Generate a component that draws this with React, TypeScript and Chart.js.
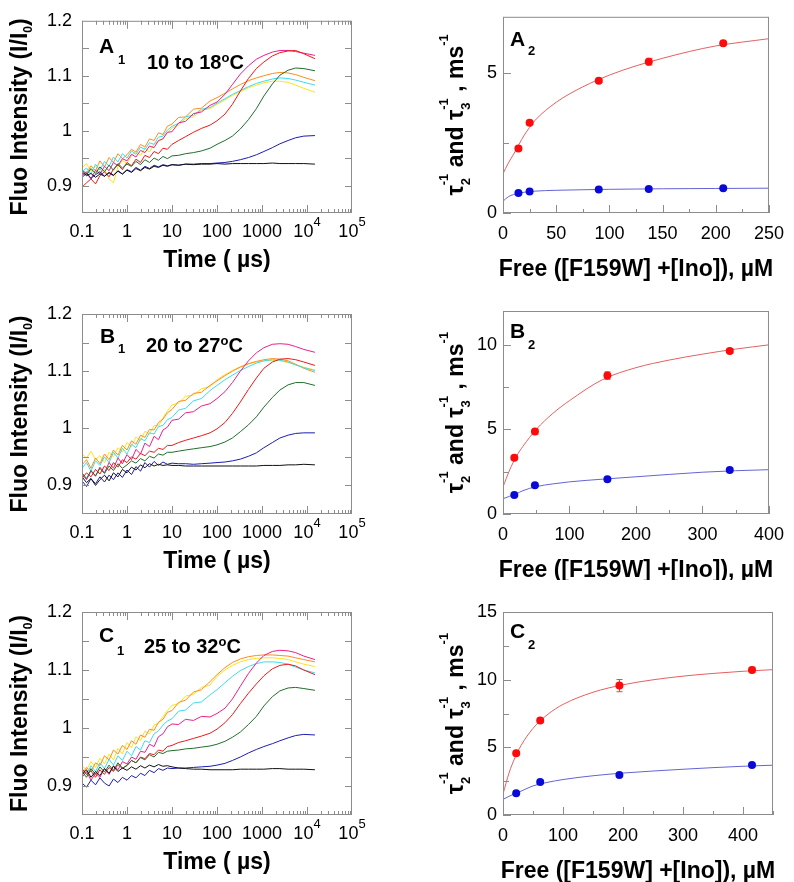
import React, { useEffect, useRef } from "react";
import { Chart, registerables } from "chart.js";
Chart.register(...registerables);

const FONT = '"Liberation Sans", Arial, Helvetica, sans-serif';
const AXIS_GRAY = "#8c8c8c";

// ---------- left panels: time axis (µs) shared by all traces ----------
const TIME = [0.1, 0.126, 0.158, 0.2, 0.25, 0.316, 0.4, 0.5, 0.63, 0.79,
  1, 1.26, 1.58, 2, 2.5, 3.16, 4, 5, 6.3, 7.9,
  10, 14, 20, 30, 45, 70, 100, 150, 220, 330,
  500, 750, 1100, 1700, 2500, 3800, 5600, 8500, 15000];

const TRACE_COLORS = ["#111111", "#1c1cb0", "#1f6e2a", "#f01818", "#e8208a", "#3adcf0", "#ff8c1a", "#ffe21a"];

// A1: 10 to 18 °C
const A1_BLACK = [0.925,0.918,0.922,0.915,0.921,0.917,0.924,0.919,0.926,0.921,
  0.928,0.924,0.931,0.927,0.933,0.930,0.935,0.933,0.937,0.935,
  0.938,0.937,0.939,0.938,0.939,0.939,0.940,0.939,0.940,0.940,
  0.940,0.940,0.940,0.941,0.940,0.940,0.940,0.940,0.939];
const A1_BLUE = [0.915,0.922,0.913,0.920,0.925,0.917,0.923,0.918,0.927,0.921,
  0.929,0.925,0.933,0.928,0.935,0.931,0.937,0.934,0.938,0.936,
  0.938,0.937,0.939,0.939,0.940,0.940,0.941,0.942,0.944,0.947,
  0.951,0.956,0.962,0.969,0.976,0.982,0.987,0.990,0.991];
const A1_GREEN = [0.928,0.919,0.931,0.922,0.934,0.925,0.937,0.928,0.940,0.932,
  0.939,0.935,0.944,0.938,0.947,0.942,0.950,0.946,0.953,0.949,
  0.954,0.955,0.958,0.960,0.963,0.968,0.975,0.982,0.990,1.003,
  1.020,1.040,1.063,1.085,1.101,1.110,1.114,1.113,1.109];
const A1_RED = [0.897,0.905,0.912,0.903,0.918,0.925,0.916,0.930,0.938,0.929,
  0.942,0.936,0.948,0.942,0.955,0.951,0.962,0.958,0.968,0.966,
  0.975,0.982,0.989,0.997,1.004,1.010,1.018,1.030,1.048,1.072,
  1.095,1.113,1.125,1.136,1.142,1.145,1.146,1.140,1.131];
const A1_MAGENTA = [0.918,0.925,0.912,0.928,0.921,0.935,0.927,0.942,0.936,0.949,
  0.945,0.957,0.952,0.964,0.960,0.972,0.969,0.982,0.985,0.997,
  0.998,1.014,1.017,1.031,1.034,1.046,1.052,1.066,1.084,1.103,
  1.118,1.130,1.137,1.143,1.146,1.146,1.144,1.141,1.137];
const A1_CYAN = [0.925,0.932,0.921,0.939,0.928,0.944,0.935,0.952,0.943,0.958,
  0.950,0.963,0.957,0.970,0.966,0.978,0.975,0.988,0.990,1.001,
  1.008,1.013,1.025,1.028,1.039,1.042,1.050,1.058,1.066,1.073,
  1.080,1.086,1.090,1.094,1.096,1.095,1.092,1.088,1.083];
const A1_ORANGE = [0.930,0.922,0.936,0.927,0.945,0.934,0.951,0.942,0.958,0.949,
  0.956,0.966,0.961,0.975,0.970,0.985,0.982,0.996,0.993,1.008,
  1.012,1.024,1.025,1.039,1.041,1.054,1.060,1.068,1.076,1.084,
  1.091,1.096,1.100,1.104,1.106,1.105,1.102,1.097,1.091];
const A1_YELLOW = [0.932,0.940,0.926,0.935,0.921,0.930,0.912,0.905,0.934,0.946,
  0.940,0.955,0.962,0.955,0.968,0.961,0.976,0.980,0.986,0.996,
  1.005,1.010,1.022,1.025,1.037,1.040,1.048,1.056,1.064,1.071,
  1.078,1.083,1.087,1.090,1.090,1.088,1.083,1.077,1.070];

// B1: 20 to 27 °C
const B1_BLACK = [0.915,0.905,0.912,0.900,0.910,0.918,0.908,0.922,0.915,0.928,
  0.922,0.932,0.927,0.936,0.931,0.938,0.934,0.937,0.935,0.936,
  0.935,0.935,0.934,0.934,0.934,0.934,0.934,0.934,0.934,0.934,
  0.934,0.934,0.935,0.935,0.935,0.936,0.936,0.937,0.936];
const B1_BLUE = [0.908,0.898,0.912,0.903,0.915,0.906,0.918,0.910,0.922,0.914,
  0.927,0.919,0.933,0.925,0.940,0.932,0.942,0.935,0.941,0.937,
  0.939,0.938,0.938,0.937,0.938,0.939,0.940,0.941,0.943,0.946,
  0.951,0.957,0.966,0.975,0.983,0.988,0.991,0.992,0.992];
const B1_GREEN = [0.922,0.912,0.926,0.917,0.930,0.921,0.934,0.926,0.938,0.930,
  0.936,0.943,0.939,0.947,0.943,0.951,0.948,0.955,0.953,0.958,
  0.958,0.960,0.962,0.964,0.966,0.968,0.971,0.976,0.983,0.994,
  1.006,1.020,1.037,1.054,1.067,1.076,1.080,1.080,1.075];
const B1_RED = [0.912,0.922,0.915,0.928,0.920,0.934,0.926,0.940,0.932,0.945,
  0.940,0.950,0.946,0.956,0.952,0.960,0.958,0.965,0.963,0.970,
  0.970,0.975,0.979,0.983,0.987,0.992,0.999,1.010,1.026,1.046,
  1.068,1.088,1.105,1.116,1.121,1.122,1.120,1.116,1.110];
const B1_MAGENTA = [0.920,0.910,0.925,0.916,0.932,0.922,0.940,0.930,0.948,0.938,
  0.954,0.945,0.963,0.955,0.974,0.968,0.986,0.980,0.997,1.002,
  1.014,1.016,1.027,1.029,1.039,1.043,1.052,1.064,1.080,1.100,
  1.118,1.132,1.141,1.147,1.148,1.147,1.143,1.138,1.133];
const B1_CYAN = [0.930,0.940,0.925,0.943,0.935,0.950,0.940,0.958,0.948,0.965,
  0.955,0.972,0.966,0.982,0.978,0.992,0.990,1.003,1.005,1.015,
  1.019,1.032,1.035,1.048,1.052,1.066,1.075,1.085,1.093,1.101,
  1.108,1.114,1.118,1.120,1.119,1.116,1.111,1.106,1.101];
const B1_ORANGE = [0.936,0.945,0.930,0.948,0.938,0.955,0.945,0.962,0.953,0.970,
  0.962,0.978,0.972,0.988,0.984,0.998,0.997,1.010,1.016,1.027,
  1.033,1.047,1.049,1.061,1.063,1.075,1.083,1.092,1.100,1.107,
  1.113,1.117,1.120,1.122,1.121,1.118,1.112,1.105,1.098];
const B1_YELLOW = [0.955,0.948,0.960,0.945,0.952,0.940,0.958,0.950,0.966,0.958,
  0.975,0.968,0.985,0.978,0.995,0.990,1.005,1.004,1.018,1.030,
  1.041,1.044,1.056,1.058,1.069,1.073,1.085,1.094,1.101,1.108,
  1.113,1.116,1.118,1.119,1.118,1.115,1.111,1.107,1.102];

// C1: 25 to 32 °C
const C1_BLACK = [0.920,0.928,0.915,0.925,0.918,0.930,0.922,0.934,0.925,0.931,
  0.927,0.933,0.929,0.935,0.931,0.936,0.933,0.937,0.934,0.935,
  0.933,0.931,0.930,0.929,0.929,0.928,0.928,0.928,0.928,0.929,
  0.929,0.929,0.929,0.930,0.930,0.929,0.929,0.929,0.928];
const C1_BLUE = [0.905,0.898,0.910,0.902,0.914,0.905,0.900,0.912,0.906,0.915,
  0.910,0.918,0.914,0.922,0.918,0.927,0.923,0.930,0.927,0.931,
  0.930,0.931,0.931,0.932,0.933,0.934,0.936,0.939,0.944,0.950,
  0.957,0.963,0.968,0.973,0.978,0.983,0.987,0.989,0.988];
const C1_GREEN = [0.925,0.915,0.930,0.920,0.933,0.924,0.936,0.927,0.940,0.931,
  0.935,0.944,0.940,0.949,0.945,0.954,0.950,0.958,0.956,0.960,
  0.961,0.962,0.964,0.965,0.967,0.969,0.972,0.977,0.984,0.993,
  1.006,1.020,1.038,1.054,1.064,1.069,1.070,1.068,1.065];
const C1_RED = [0.930,0.920,0.926,0.915,0.928,0.920,0.932,0.925,0.937,0.930,
  0.936,0.944,0.940,0.950,0.947,0.956,0.954,0.962,0.960,0.968,
  0.970,0.975,0.978,0.982,0.986,0.991,0.998,1.009,1.023,1.042,
  1.060,1.076,1.090,1.102,1.108,1.110,1.107,1.100,1.092];
const C1_MAGENTA = [0.915,0.925,0.910,0.922,0.915,0.930,0.920,0.935,0.928,0.942,
  0.938,0.950,0.946,0.960,0.958,0.972,0.968,0.985,0.990,1.002,
  1.007,1.006,1.015,1.013,1.020,1.019,1.025,1.034,1.050,1.072,
  1.094,1.112,1.125,1.132,1.134,1.133,1.130,1.124,1.118];
const C1_CYAN = [0.928,0.920,0.935,0.925,0.940,0.930,0.946,0.936,0.952,0.944,
  0.960,0.952,0.968,0.962,0.978,0.975,0.990,0.995,1.005,1.012,
  1.016,1.029,1.031,1.043,1.045,1.057,1.066,1.078,1.089,1.099,
  1.106,1.111,1.114,1.114,1.113,1.110,1.105,1.100,1.095];
const C1_ORANGE = [0.920,0.932,0.925,0.940,0.935,0.952,0.945,0.962,0.955,0.970,
  0.963,0.978,0.972,0.988,0.984,0.998,0.996,1.010,1.015,1.027,
  1.030,1.044,1.048,1.062,1.066,1.080,1.092,1.104,1.113,1.119,
  1.123,1.125,1.126,1.126,1.125,1.124,1.121,1.118,1.114];
const C1_YELLOW = [0.935,0.928,0.942,0.932,0.948,0.938,0.955,0.945,0.965,0.955,
  0.975,0.966,0.985,0.978,0.995,0.990,1.005,1.008,1.020,1.030,
  1.039,1.042,1.055,1.058,1.070,1.074,1.089,1.100,1.108,1.114,
  1.118,1.120,1.121,1.121,1.120,1.118,1.114,1.110,1.106];

const A1_TRACES = [A1_BLACK, A1_BLUE, A1_GREEN, A1_RED, A1_MAGENTA, A1_CYAN, A1_ORANGE, A1_YELLOW];
const B1_TRACES = [B1_BLACK, B1_BLUE, B1_GREEN, B1_RED, B1_MAGENTA, B1_CYAN, B1_ORANGE, B1_YELLOW];
const C1_TRACES = [C1_BLACK, C1_BLUE, C1_GREEN, C1_RED, C1_MAGENTA, C1_CYAN, C1_ORANGE, C1_YELLOW];

const LEFT_Y_LABELS = [0.9, 1, 1.1, 1.2];
const LEFT_Y_TICKS = [0.9, 0.95, 1, 1.05, 1.1, 1.15];
const LOG_TICKS = [0.1, 1, 10, 100, 1000, 10000, 100000];
const LOG_LABEL_BASE = ["0.1", "1", "10", "100", "1000", "10", "10"];
const LOG_LABEL_EXP = ["", "", "", "", "", "4", "5"];

// ---------- right panels ----------
const A2_X = [14.5, 25, 90, 137, 207];
const A2_RED = [2.3, 3.22, 4.72, 5.4, 6.06];
const A2_RED_ERR = [0.06, 0.05, 0.06, 0.12, 0.06];
const A2_BLUE = [0.71, 0.77, 0.84, 0.86, 0.88];
const A2_FIT_X = [0, 5, 10, 15, 20, 25, 30, 50, 75, 100, 125, 150, 175, 200, 250];
const A2_RED_FIT = [1.4, 1.78, 2.1, 2.45, 2.78, 3.05, 3.3, 3.95, 4.5, 4.92, 5.25, 5.52, 5.76, 5.96, 6.22];
const A2_BLUE_FIT = [0.42, 0.58, 0.66, 0.71, 0.74, 0.76, 0.78, 0.81, 0.83, 0.845, 0.855, 0.865, 0.87, 0.875, 0.885];

const B2_X = [17, 48, 157, 341];
const B2_RED = [3.33, 4.87, 8.18, 9.64];
const B2_RED_ERR = [0.1, 0.15, 0.22, 0.12];
const B2_BLUE = [1.12, 1.7, 2.05, 2.6];
const B2_FIT_X = [0, 10, 20, 30, 50, 75, 100, 150, 200, 250, 300, 350, 400];
const B2_RED_FIT = [1.6, 2.6, 3.4, 4.0, 5.0, 5.95, 6.7, 7.95, 8.65, 9.1, 9.45, 9.75, 10.0];
const B2_BLUE_FIT = [0.9, 1.05, 1.2, 1.38, 1.62, 1.78, 1.9, 2.06, 2.2, 2.34, 2.47, 2.56, 2.62];

const C2_X = [22, 62, 194, 415];
const C2_RED = [4.57, 6.98, 9.56, 10.72];
const C2_RED_ERR = [0.15, 0.15, 0.45, 0.2];
const C2_BLUE = [1.6, 2.43, 2.95, 3.69];
const C2_FIT_X = [0, 10, 20, 30, 50, 75, 100, 150, 200, 250, 300, 350, 400, 450];
const C2_RED_FIT = [1.55, 3.1, 4.24, 5.13, 6.4, 7.45, 8.17, 9.07, 9.62, 9.99, 10.26, 10.46, 10.62, 10.74];
const C2_BLUE_FIT = [1.15, 1.38, 1.58, 1.76, 2.15, 2.42, 2.62, 2.9, 3.1, 3.25, 3.38, 3.5, 3.6, 3.68];

const A2_X_LABELS = [0, 50, 100, 150, 200, 250];
const A2_Y_LABELS = [0, 5];
const B2_X_LABELS = [0, 100, 200, 300, 400];
const B2_Y_LABELS = [0, 5, 10];
const C2_X_LABELS = [0, 100, 200, 300, 400];
const C2_Y_LABELS = [0, 5, 10, 15];

// ---------- text helpers ----------
type Run = { t: string; s: number; dy?: number; stack?: boolean; normal?: boolean };

function fontOf(r: Run) {
  return `${r.normal ? "" : "bold "}${r.s}px ${FONT}`;
}

function drawRuns(ctx: CanvasRenderingContext2D, runs: Run[], x: number, y: number, align: "left" | "center") {
  const items: { r: Run; start: number }[] = [];
  let pos = 0, prevStart = 0, prevW = 0;
  for (const r of runs) {
    ctx.font = fontOf(r);
    const w = ctx.measureText(r.t).width;
    let start: number;
    if (r.stack) {
      start = prevStart;
      pos = prevStart + Math.max(prevW, w);
    } else {
      start = pos;
      pos += w;
    }
    items.push({ r, start });
    prevStart = start;
    prevW = w;
  }
  const off = align === "center" ? -pos / 2 : 0;
  ctx.textAlign = "left";
  ctx.textBaseline = "alphabetic";
  ctx.fillStyle = "#000";
  for (const it of items) {
    ctx.font = fontOf(it.r);
    ctx.fillText(it.r.t, x + off + it.start, y + (it.r.dy || 0));
  }
}

function drawRotated(ctx: CanvasRenderingContext2D, runs: Run[], bx: number, cy: number) {
  ctx.save();
  ctx.translate(bx, cy);
  ctx.rotate(-Math.PI / 2);
  drawRuns(ctx, runs, 0, 0, "center");
  ctx.restore();
}

const LEFT_Y_TITLE: Run[] = [{ t: "Fluo Intensity (I/I", s: 23 }, { t: "0", s: 12, dy: 5 }, { t: ")", s: 23 }];
const LEFT_X_TITLE: Run[] = [{ t: "Time ( µs)", s: 23 }];
const RIGHT_Y_TITLE: Run[] = [
  { t: "τ", s: 23 }, { t: "2", s: 13, dy: 7 }, { t: "-1", s: 13, dy: -15, stack: true },
  { t: " and ", s: 23 },
  { t: "τ", s: 23 }, { t: "3", s: 13, dy: 7 }, { t: "-1", s: 13, dy: -15, stack: true },
  { t: " , ms", s: 23 }, { t: "-1", s: 13, dy: -15 },
];
const RIGHT_X_TITLE: Run[] = [{ t: "Free ([F159W] +[Ino]), µM", s: 23 }];

// ---------- panel configs ----------
type LeftCfg = {
  traces: number[][]; top: number; height: number; padTop: number; xh: number;
  letter: string; sub: string; temp: string;
  letterPos: [number, number]; subPos: [number, number]; tempPos: [number, number];
};

const LEFT_PANELS: LeftCfg[] = [
  { traces: A1_TRACES, top: 0, height: 290, padTop: 10, xh: 77, letter: "A", sub: "1", temp: "10 to 18",
    letterPos: [17, 32], subPos: [36, 43], tempPos: [65, 48] },
  { traces: B1_TRACES, top: 290, height: 290, padTop: 24, xh: 66, letter: "B", sub: "1", temp: "20 to 27",
    letterPos: [18, 29], subPos: [36, 39], tempPos: [64, 38] },
  { traces: C1_TRACES, top: 580, height: 302, padTop: 32, xh: 67, letter: "C", sub: "1", temp: "25 to 32",
    letterPos: [17, 30], subPos: [35, 43], tempPos: [62, 41] },
];

type RightCfg = {
  top: number; height: number; padTop: number; xh: number;
  xMax: number; yMax: number; xMinor: number; xMajor: number;
  xLabels: number[]; yLabels: number[];
  px: number[]; red: number[]; redErr: number[]; blue: number[];
  fitX: number[]; redFit: number[]; blueFit: number[];
  letter: string; sub: string; letterPos: [number, number]; subPos: [number, number];
};

const RIGHT_PANELS: RightCfg[] = [
  { top: 0, height: 290, padTop: 10, xh: 77, xMax: 250, yMax: 7, xMinor: 25, xMajor: 50,
    xLabels: A2_X_LABELS, yLabels: A2_Y_LABELS, px: A2_X, red: A2_RED, redErr: A2_RED_ERR, blue: A2_BLUE,
    fitX: A2_FIT_X, redFit: A2_RED_FIT, blueFit: A2_BLUE_FIT, letter: "A", sub: "2", letterPos: [7, 29], subPos: [25, 38] },
  { top: 290, height: 290, padTop: 21, xh: 66, xMax: 400, yMax: 12, xMinor: 50, xMajor: 100,
    xLabels: B2_X_LABELS, yLabels: B2_Y_LABELS, px: B2_X, red: B2_RED, redErr: B2_RED_ERR, blue: B2_BLUE,
    fitX: B2_FIT_X, redFit: B2_RED_FIT, blueFit: B2_BLUE_FIT, letter: "B", sub: "2", letterPos: [7, 27], subPos: [25, 38] },
  { top: 580, height: 302, padTop: 32, xh: 67, xMax: 450, yMax: 15, xMinor: 50, xMajor: 100,
    xLabels: C2_X_LABELS, yLabels: C2_Y_LABELS, px: C2_X, red: C2_RED, redErr: C2_RED_ERR, blue: C2_BLUE,
    fitX: C2_FIT_X, redFit: C2_RED_FIT, blueFit: C2_BLUE_FIT, letter: "C", sub: "2", letterPos: [7, 26], subPos: [25, 37] },
];

const CANVAS_W = 397;

// ---------- chart builders ----------
function leftConfig(p: LeftCfg): any {
  const deco = {
    id: "leftDeco",
    afterDraw(chart: any) {
      const { ctx, chartArea: a, scales } = chart;
      const xs = scales.x, ys = scales.y;
      ctx.save();
      ctx.strokeStyle = AXIS_GRAY;
      ctx.lineWidth = 1;
      ctx.beginPath();
      for (const v of LEFT_Y_TICKS) {
        const py = Math.round(ys.getPixelForValue(v)) + 0.5;
        ctx.moveTo(a.left, py); ctx.lineTo(a.left + 7, py);
        ctx.moveTo(a.right, py); ctx.lineTo(a.right - 7, py);
      }
      for (let d = -1; d < 5; d++) {
        for (let k = 1; k < 10; k++) {
          const v = k * Math.pow(10, d);
          const px = Math.round(xs.getPixelForValue(v)) + 0.5;
          const L = k === 1 ? 8 : 4;
          ctx.moveTo(px, a.bottom); ctx.lineTo(px, a.bottom - L);
          ctx.moveTo(px, a.top); ctx.lineTo(px, a.top + L);
        }
      }
      ctx.stroke();
      ctx.strokeRect(a.left + 0.5, a.top + 0.5, a.right - a.left - 1, a.bottom - a.top - 1);
      LOG_TICKS.forEach((v, i) => {
        const px = xs.getPixelForValue(v);
        const runs: Run[] = [{ t: LOG_LABEL_BASE[i], s: 18, normal: true }];
        if (LOG_LABEL_EXP[i]) runs.push({ t: LOG_LABEL_EXP[i], s: 13, dy: -11, normal: true });
        drawRuns(ctx, runs, px, a.bottom + 24, "center");
      });
      drawRotated(ctx, LEFT_Y_TITLE, a.left - 55, (a.top + a.bottom) / 2);
      drawRuns(ctx, LEFT_X_TITLE, (a.left + a.right) / 2, a.bottom + 54, "center");
      drawRuns(ctx, [{ t: p.letter, s: 21 }], a.left + p.letterPos[0], a.top + p.letterPos[1], "left");
      drawRuns(ctx, [{ t: p.sub, s: 13 }], a.left + p.subPos[0], a.top + p.subPos[1], "left");
      drawRuns(ctx, [{ t: p.temp, s: 20 }, { t: "o", s: 13, dy: -7 }, { t: "C", s: 20 }],
        a.left + p.tempPos[0], a.top + p.tempPos[1], "left");
      ctx.restore();
    },
  };
  return {
    type: "line",
    data: {
      datasets: p.traces.map((vals, i) => ({
        data: TIME.map((t, j) => ({ x: t, y: vals[j] })),
        borderColor: TRACE_COLORS[i],
        borderWidth: 1,
        pointRadius: 0,
        tension: 0,
        fill: false,
      })),
    },
    options: {
      animation: false,
      responsive: false,
      devicePixelRatio: 1,
      events: [],
      layout: { padding: { left: 0, right: CANVAS_W - 352, top: p.padTop, bottom: 0 }, autoPadding: false },
      plugins: { legend: { display: false }, tooltip: { enabled: false } },
      scales: {
        x: {
          type: "logarithmic", min: 0.1, max: 100000,
          grid: { display: false }, border: { display: false },
          ticks: { display: false },
          afterFit: (s: any) => { s.height = p.xh; },
        },
        y: {
          type: "linear", min: 0.85, max: 1.2,
          grid: { display: false, drawTicks: false }, border: { display: false },
          ticks: { font: { family: FONT, size: 18 }, color: "#000", padding: 10, callback: (v: number) => String(v) },
          afterBuildTicks: (s: any) => { s.ticks = LEFT_Y_LABELS.map((v) => ({ value: v })); },
          afterFit: (s: any) => { s.width = 82; },
        },
      },
    },
    plugins: [deco],
  };
}

function rightConfig(p: RightCfg): any {
  const deco = {
    id: "rightDeco",
    beforeDatasetsDraw(chart: any) {
      const { ctx, scales } = chart;
      const xs = scales.x, ys = scales.y;
      ctx.save();
      ctx.strokeStyle = "#e84848";
      ctx.lineWidth = 1;
      ctx.beginPath();
      p.px.forEach((xv, i) => {
        const px = Math.round(xs.getPixelForValue(xv)) + 0.5;
        const t = ys.getPixelForValue(p.red[i] + p.redErr[i]);
        const b = ys.getPixelForValue(p.red[i] - p.redErr[i]);
        ctx.moveTo(px, t); ctx.lineTo(px, b);
        ctx.moveTo(px - 3, t); ctx.lineTo(px + 3, t);
        ctx.moveTo(px - 3, b); ctx.lineTo(px + 3, b);
      });
      ctx.stroke();
      ctx.restore();
    },
    afterDraw(chart: any) {
      const { ctx, chartArea: a, scales } = chart;
      const xs = scales.x, ys = scales.y;
      ctx.save();
      ctx.strokeStyle = AXIS_GRAY;
      ctx.lineWidth = 1;
      ctx.beginPath();
      for (let v = 0; v <= p.xMax + 1e-6; v += p.xMinor) {
        const px = Math.round(xs.getPixelForValue(v)) + 0.5;
        const L = Math.abs(v / p.xMajor - Math.round(v / p.xMajor)) < 1e-6 ? 8 : 4;
        ctx.moveTo(px, a.bottom); ctx.lineTo(px, a.bottom - L);
      }
      for (let v = 0; v <= p.yMax + 1e-6; v += 2.5) {
        const py = Math.round(ys.getPixelForValue(v)) + 0.5;
        const L = Math.abs(v / 5 - Math.round(v / 5)) < 1e-6 ? 8 : 6;
        ctx.moveTo(a.left, py); ctx.lineTo(a.left + L, py);
      }
      ctx.stroke();
      ctx.strokeRect(a.left + 0.5, a.top + 0.5, a.right - a.left - 1, a.bottom - a.top - 1);
      drawRotated(ctx, RIGHT_Y_TITLE, a.left - 40, (a.top + a.bottom) / 2);
      drawRuns(ctx, RIGHT_X_TITLE, (a.left + a.right) / 2, a.bottom + 63, "center");
      drawRuns(ctx, [{ t: p.letter, s: 21 }], a.left + p.letterPos[0], a.top + p.letterPos[1], "left");
      drawRuns(ctx, [{ t: p.sub, s: 13 }], a.left + p.subPos[0], a.top + p.subPos[1], "left");
      ctx.restore();
    },
  };
  return {
    type: "scatter",
    data: {
      datasets: [
        { data: p.px.map((x, i) => ({ x, y: p.red[i] })), backgroundColor: "#ff0a0a", borderWidth: 0, pointRadius: 4, showLine: false },
        { data: p.px.map((x, i) => ({ x, y: p.blue[i] })), backgroundColor: "#0a0ad8", borderWidth: 0, pointRadius: 4, showLine: false },
        { data: p.fitX.map((x, i) => ({ x, y: p.redFit[i] })), showLine: true, borderColor: "#e46060", borderWidth: 1,
          pointRadius: 0, cubicInterpolationMode: "monotone", fill: false },
        { data: p.fitX.map((x, i) => ({ x, y: p.blueFit[i] })), showLine: true, borderColor: "#6464d4", borderWidth: 1,
          pointRadius: 0, cubicInterpolationMode: "monotone", fill: false },
      ],
    },
    options: {
      animation: false,
      responsive: false,
      devicePixelRatio: 1,
      events: [],
      layout: { padding: { left: 0, right: CANVAS_W - 376, top: p.padTop, bottom: 0 }, autoPadding: false },
      plugins: { legend: { display: false }, tooltip: { enabled: false } },
      scales: {
        x: {
          type: "linear", min: 0, max: p.xMax,
          grid: { display: false, drawTicks: false }, border: { display: false },
          ticks: { font: { family: FONT, size: 18 }, color: "#000", padding: 10, maxRotation: 0, autoSkip: false },
          afterBuildTicks: (s: any) => { s.ticks = p.xLabels.map((v) => ({ value: v })); },
          afterFit: (s: any) => { s.height = p.xh; },
        },
        y: {
          type: "linear", min: 0, max: p.yMax,
          grid: { display: false, drawTicks: false }, border: { display: false },
          ticks: { font: { family: FONT, size: 18 }, color: "#000", padding: 6, autoSkip: false },
          afterBuildTicks: (s: any) => { s.ticks = p.yLabels.map((v) => ({ value: v })); },
          afterFit: (s: any) => { s.width = 106; },
        },
      },
    },
    plugins: [deco],
  };
}

function Panel({ make, left, top, height }: { make: () => any; left: number; top: number; height: number }) {
  const ref = useRef<HTMLCanvasElement>(null);
  useEffect(() => {
    const chart = new Chart(ref.current as HTMLCanvasElement, make());
    return () => chart.destroy();
  }, []);
  return (
    <canvas
      ref={ref}
      width={CANVAS_W}
      height={height}
      style={{ position: "absolute", left, top, width: CANVAS_W, height }}
    />
  );
}

export default function App() {
  return (
    <div style={{ position: "absolute", left: 0, top: 0, width: 794, height: 882, background: "#fff", overflow: "hidden" }}>
      {LEFT_PANELS.map((p, i) => (
        <Panel key={"l" + i} make={() => leftConfig(p)} left={0} top={p.top} height={p.height} />
      ))}
      {RIGHT_PANELS.map((p, i) => (
        <Panel key={"r" + i} make={() => rightConfig(p)} left={CANVAS_W} top={p.top} height={p.height} />
      ))}
    </div>
  );
}
